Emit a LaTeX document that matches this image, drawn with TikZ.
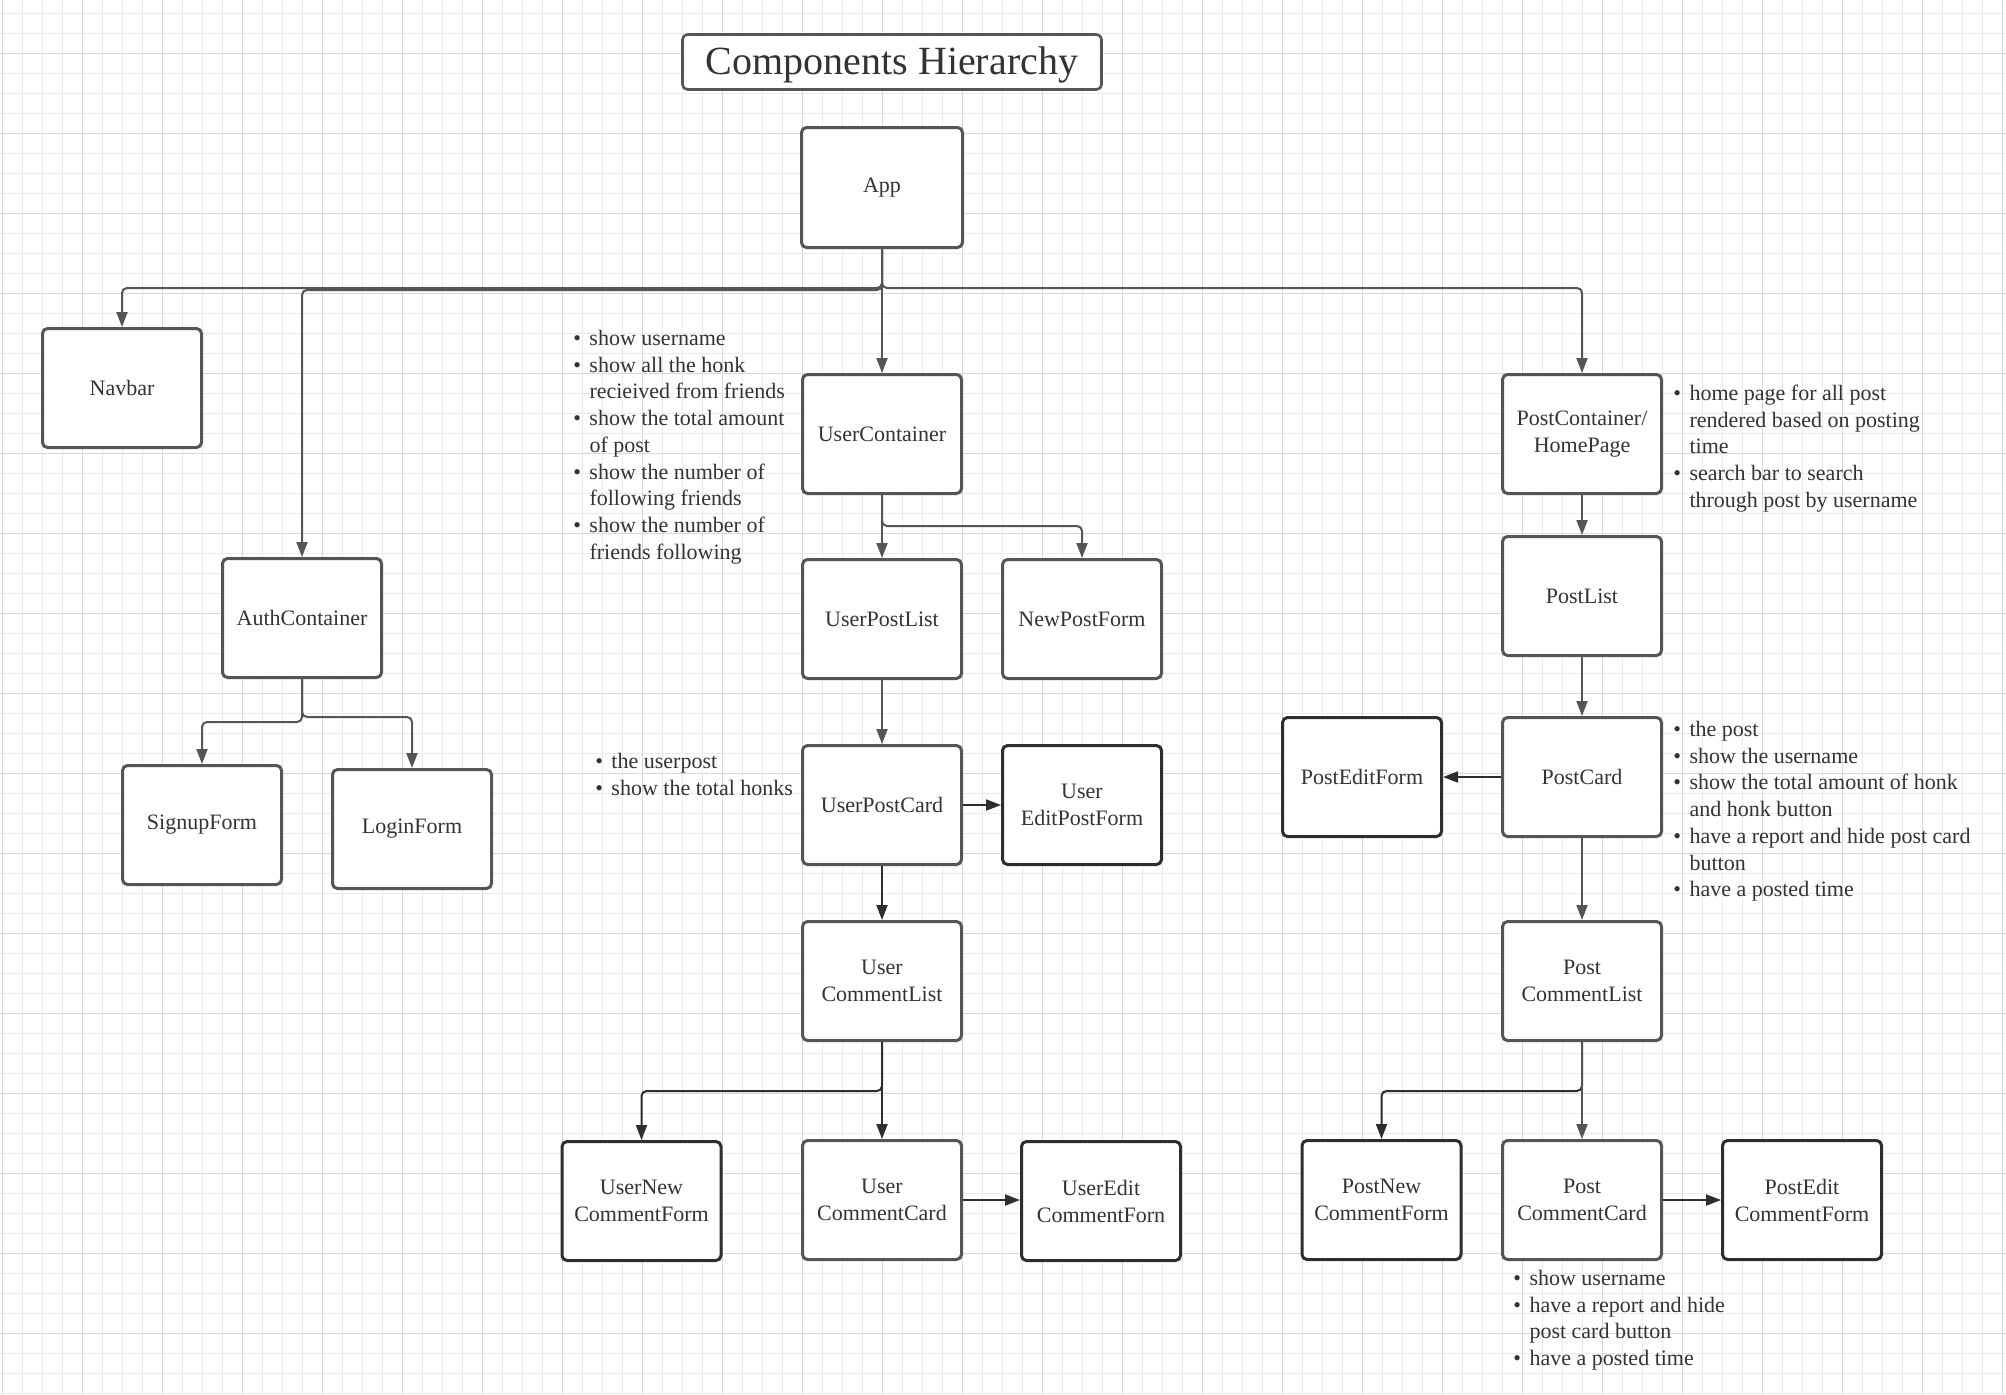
\documentclass[tikz,border=0pt]{standalone}
\usepackage{fontspec}
\setmainfont{Liberation Serif}
\usetikzlibrary{arrows.meta}
\definecolor{txt}{HTML}{333333}
\definecolor{bord}{HTML}{555555}
\definecolor{dbord}{HTML}{2E2E2E}
\definecolor{gminor}{HTML}{EBEBEB}
\definecolor{gmajor}{HTML}{D8D8D8}
\tikzset{
  cbox/.style={draw=bord, line width=1.5pt, rounded corners=2.5pt, fill=white,
    minimum width=79.5pt, minimum height=59.5pt, align=center, text=txt,
    font=\fontsize{11}{13.5}\selectfont, inner sep=0pt},
  dbox/.style={cbox, draw=dbord},
  conn/.style={draw=bord, line width=1pt, rounded corners=2.5pt,
    -{Triangle[length=7.5pt,width=5.5pt]}},
  dconn/.style={conn, draw=dbord},
  note/.style={anchor=base west, inner sep=0pt, text=txt,
    font=\fontsize{11}{13.35}\selectfont},
}
\newcommand{\bl}{\textbullet}
\begin{document}
\begin{tikzpicture}[x=0.5pt,y=-0.5pt]
\useasboundingbox (0,0) rectangle (2006,1394);
\fill[white] (0,0) rectangle (2006,1394);
% grid
\foreach \i in {0,...,100} {
  \draw[gminor, line width=0.5pt] ({2.7+20*\i},0) -- ({2.7+20*\i},1394);
}
\foreach \j in {0,...,69} {
  \draw[gminor, line width=0.5pt] (0,{13.3+20*\j}) -- (2006,{13.3+20*\j});
}
\foreach \i in {0,...,25} {
  \draw[gmajor, line width=0.5pt] ({2.7+80*\i},0) -- ({2.7+80*\i},1394);
}
\foreach \j in {0,...,17} {
  \draw[gmajor, line width=0.5pt] (0,{53.3+80*\j}) -- (2006,{53.3+80*\j});
}

% title
\node[draw=bord, line width=1.3pt, rounded corners=2.5pt, fill=white,
  minimum width=209.5pt, minimum height=27.5pt, inner sep=0pt, text=txt,
  text depth=1.8pt, font=\fontsize{20}{24}\selectfont] (title) at (892,62) {Components Hierarchy};

% boxes
\node[cbox, minimum width=80.5pt, minimum height=60pt] (app) at (882,187.5) {App};
\node[cbox] (navbar) at (122,388) {Navbar};
\node[cbox] (auth) at (302,618) {AuthContainer};
\node[cbox] (signup) at (202,825) {SignupForm};
\node[cbox] (login) at (412,829) {LoginForm};
\node[cbox] (ucont) at (882,434) {UserContainer};
\node[cbox] (upl) at (882,619) {UserPostList};
\node[cbox] (npf) at (1082,619) {NewPostForm};
\node[cbox] (upc) at (882,805) {UserPostCard};
\node[dbox] (uepf) at (1082,805) {User\\EditPostForm};
\node[cbox] (ucl) at (882,981) {User\\CommentList};
\node[dbox] (uncf) at (641.5,1201) {UserNew\\CommentForm};
\node[cbox] (ucc) at (882,1200) {User\\CommentCard};
\node[dbox] (uecf) at (1101,1201) {UserEdit\\CommentForn};
\node[cbox] (pcont) at (1582,434) {PostContainer/\\HomePage};
\node[cbox] (plist) at (1582,596) {PostList};
\node[cbox] (pcard) at (1582,777) {PostCard};
\node[dbox] (pef) at (1362,777) {PostEditForm};
\node[cbox] (pcl) at (1582,981) {Post\\CommentList};
\node[dbox] (pncf) at (1381.5,1200) {PostNew\\CommentForm};
\node[cbox] (pcc) at (1582,1200) {Post\\CommentCard};
\node[dbox] (pecf) at (1802,1200) {PostEdit\\CommentForm};

% branch points
\coordinate (b1) at (882,288);
\coordinate (b2) at (882,290);
\coordinate (b3) at (302,722);
\coordinate (b4) at (302,717);
\coordinate (b5) at (882,526);
\coordinate (b6) at (882,1091);
\coordinate (b7) at (1582,1091);

% connectors
\draw[conn] (app.south) -- (b1) -| (navbar.north);
\draw[conn] (app.south) -- (b2) -| (auth.north);
\draw[conn] (app.south) -- (ucont.north);
\draw[conn] (app.south) -- (b1) -| (pcont.north);
\draw[conn] (auth.south) -- (b3) -| (signup.north);
\draw[conn] (auth.south) -- (b4) -| (login.north);
\draw[conn] (ucont.south) -- (upl.north);
\draw[conn] (ucont.south) -- (b5) -| (npf.north);
\draw[conn] (upl.south) -- (upc.north);
\draw[dconn] (upc.east) -- (uepf.west);
\draw[dconn] (upc.south) -- (ucl.north);
\draw[dconn] (ucl.south) -- (b6) -| (uncf.north);
\draw[dconn] (ucl.south) -- (ucc.north);
\draw[dconn] (ucc.east) -- (ucc.east -| uecf.west);
\draw[conn] (pcont.south) -- (plist.north);
\draw[conn] (plist.south) -- (pcard.north);
\draw[dconn] (pcard.west) -- (pef.east);
\draw[conn] (pcard.south) -- (pcl.north);
\draw[dconn] (pcl.south) -- (b7) -| (pncf.north);
\draw[conn] (pcl.south) -- (pcc.north);
\draw[dconn] (pcc.east) -- (pecf.west);

% notes
\node[note] (n1) at (573,345.5) {\begin{tabular}[t]{@{}l@{\hspace{4.2pt}}l@{}}
\bl & show username\\
\bl & show all the honk\\
 & recieived from friends\\
\bl & show the total amount\\
 & of post\\
\bl & show the number of\\
 & following friends\\
\bl & show the number of\\
 & friends following
\end{tabular}};
\node[note] (n2) at (595,768.5) {\begin{tabular}[t]{@{}l@{\hspace{4.2pt}}l@{}}
\bl & the userpost\\
\bl & show the total honks
\end{tabular}};
\node[note] (n3) at (1673,400.5) {\begin{tabular}[t]{@{}l@{\hspace{4.2pt}}l@{}}
\bl & home page for all post\\
 & rendered based on posting\\
 & time\\
\bl & search bar to search\\
 & through post by username
\end{tabular}};
\node[note] (n4) at (1673,736.5) {\begin{tabular}[t]{@{}l@{\hspace{4.2pt}}l@{}}
\bl & the post\\
\bl & show the username\\
\bl & show the total amount of honk\\
 & and honk button\\
\bl & have a report and hide post card\\
 & button\\
\bl & have a posted time
\end{tabular}};
\node[note] (n5) at (1513,1285.5) {\begin{tabular}[t]{@{}l@{\hspace{4.2pt}}l@{}}
\bl & show username\\
\bl & have a report and hide\\
 & post card button\\
\bl & have a posted time
\end{tabular}};
\end{tikzpicture}
\end{document}
